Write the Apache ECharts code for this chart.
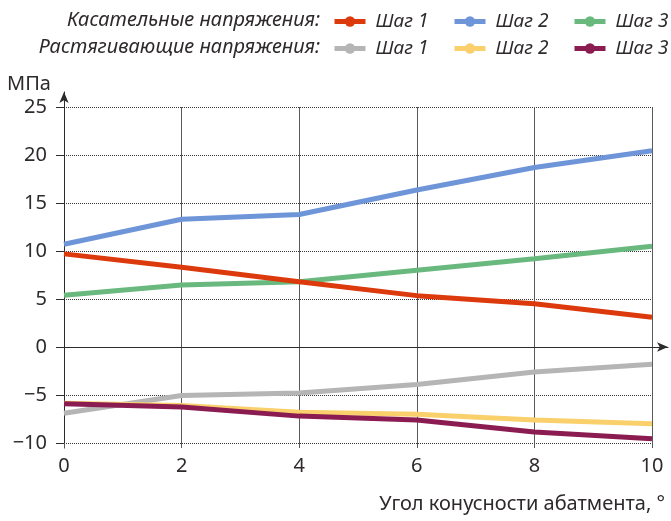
<!DOCTYPE html>
<html>
<head>
<meta charset="utf-8">
<script src="https://cdn.jsdelivr.net/npm/echarts@6/dist/echarts.min.js"></script>
<style>
html,body{margin:0;padding:0;background:#fff;}
#c{width:671px;height:521px;}
</style>
</head>
<body>
<div id="c"></div>
<script>
var xValues = [0, 2, 4, 6, 8, 10];
var shear1 = [9.7, 8.3, 6.8, 5.35, 4.5, 3.1];
var shear2 = [10.7, 13.3, 13.8, 16.35, 18.7, 20.45];
var shear3 = [5.4, 6.45, 6.8, 8.0, 9.2, 10.5];
var tens1 = [-6.9, -5.05, -4.8, -3.9, -2.6, -1.8];
var tens2 = [-5.85, -6.1, -6.8, -7.0, -7.6, -8.0];
var tens3 = [-5.9, -6.25, -7.2, -7.6, -8.85, -9.55];
var stepNames = ['Шаг 1', 'Шаг 2', 'Шаг 3'];
var groupShear = 'Касательные напряжения:';
var groupTens = 'Растягивающие напряжения:';
var xTitle = 'Угол конусности абатмента, °';
var yTitle = 'МПа';

var FONT = "'Noto Sans', sans-serif";
var TXT = '#2e2a2b';
var colors = {
  s1: '#dc3a0d', s2: '#6f95d9', s3: '#69b97f',
  t1: '#b5b5b5', t2: '#f9d06c', t3: '#8b1c52'
};

function pairs(arr) { return xValues.map(function (x, i) { return [x, arr[i]]; }); }
function mkSeries(id, data, color) {
  return {
    id: id, name: id, type: 'line', xAxisIndex: 0, yAxisIndex: 0,
    data: pairs(data), symbol: 'circle', showSymbol: false, symbolSize: 10,
    lineStyle: { color: color, width: 5 }, itemStyle: { color: color },
    emphasis: { disabled: true }, z: 3
  };
}
var sIds = ['s1', 's2', 's3'], tIds = ['t1', 't2', 't3'];
var legendLefts = [332, 452, 572];

function mkLegend(id, idx, top) {
  return {
    data: [id], left: legendLefts[idx], top: top,
    orient: 'horizontal', padding: 0, itemWidth: 31, itemHeight: 13,
    lineStyle: { width: 5 },
    textStyle: { fontFamily: FONT, fontSize: 19, fontStyle: 'italic', color: TXT, padding: [0, 0, 0, 5] },
    formatter: function () { return stepNames[idx]; },
    selectedMode: false
  };
}
var legends = [];
sIds.forEach(function (id, i) { legends.push(mkLegend(id, i, 12)); });
tIds.forEach(function (id, i) { legends.push(mkLegend(id, i, 39)); });

var chart = echarts.init(document.getElementById('c'), null, { renderer: 'canvas' });
chart.setOption({
  animation: false,
  textStyle: { fontFamily: FONT },
  title: [
    { text: groupShear, right: 351, top: 10, padding: 0,
      textStyle: { fontFamily: FONT, fontSize: 20, fontStyle: 'italic', fontWeight: 'normal', color: TXT } },
    { text: groupTens, right: 351, top: 37, padding: 0,
      textStyle: { fontFamily: FONT, fontSize: 20, fontStyle: 'italic', fontWeight: 'normal', color: TXT } },
    { text: yTitle, left: 7, top: 74, padding: 0,
      textStyle: { fontFamily: FONT, fontSize: 20, fontWeight: 'normal', color: TXT } },
    { text: xTitle, right: 6, top: 494, padding: 0,
      textStyle: { fontFamily: FONT, fontSize: 20, fontWeight: 'normal', color: TXT } }
  ],
  legend: legends,
  grid: [
    { left: 64, right: 19, top: 107, bottom: 78 },
    { left: 64, right: 3, top: 92, bottom: 73 }
  ],
  xAxis: [
    {
      type: 'value', gridIndex: 0, min: 0, max: 10, interval: 2, position: 'bottom',
      axisLine: { show: false, onZero: false },
      axisTick: { show: true, inside: false, length: 5, lineStyle: { color: '#555' } },
      axisLabel: { margin: 13, fontSize: 20, color: TXT, fontFamily: FONT },
      splitLine: { show: true, lineStyle: { color: '#5a5a5a', width: 1, type: 'solid' } }
    },
    {
      type: 'value', gridIndex: 1, min: 0, max: 1,
      axisLine: { show: true, onZero: true, symbol: ['none', 'arrow'], symbolSize: [7, 11],
        lineStyle: { color: '#2b2b2b', width: 1 } },
      axisTick: { show: false }, axisLabel: { show: false }, splitLine: { show: false }
    }
  ],
  yAxis: [
    {
      type: 'value', gridIndex: 0, min: -10, max: 25, interval: 5,
      axisLine: { show: false },
      axisTick: { show: true, inside: false, length: 8, lineStyle: { color: '#2b2b2b' } },
      axisLabel: { margin: 17, fontSize: 20, color: TXT, fontFamily: FONT,
        formatter: function (v) { return v < 0 ? '\u2212' + Math.abs(v) : String(v); } },
      splitLine: { show: true, lineStyle: { color: '#333', width: 1, type: [1, 1] } }
    },
    {
      type: 'value', gridIndex: 1, min: -10 - 5 / 9.6, max: 25 + 15 / 9.6,
      axisLine: { show: true, onZero: true, symbol: ['none', 'arrow'], symbolSize: [7, 11],
        lineStyle: { color: '#2b2b2b', width: 1 } },
      axisTick: { show: false }, axisLabel: { show: false }, splitLine: { show: false }
    }
  ],
  series: [
    mkSeries('t1', tens1, colors.t1),
    mkSeries('t2', tens2, colors.t2),
    mkSeries('t3', tens3, colors.t3),
    mkSeries('s3', shear3, colors.s3),
    mkSeries('s1', shear1, colors.s1),
    mkSeries('s2', shear2, colors.s2)
  ]
});
</script>
</body>
</html>
